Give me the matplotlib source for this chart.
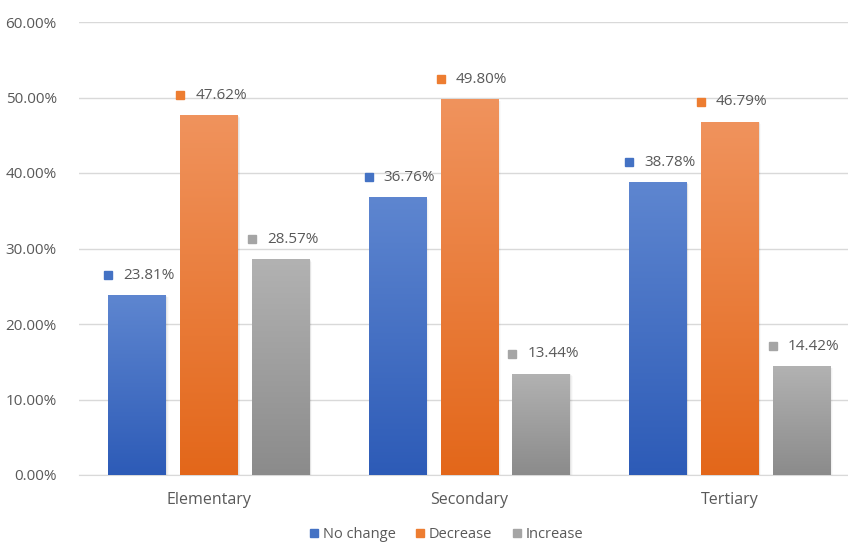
import numpy as np
import matplotlib.pyplot as plt
import matplotlib.transforms as mtransforms
from matplotlib.colors import LinearSegmentedColormap
from matplotlib.patches import Rectangle

plt.rcParams['font.family'] = ['Open Sans', 'DejaVu Sans']

levels = ['Elementary', 'Secondary', 'Tertiary']
series = ['No change', 'Decrease', 'Increase']
no_change = [23.81, 36.76, 38.78]
decrease = [47.62, 49.80, 46.79]
increase = [28.57, 13.44, 14.42]
values = [no_change, decrease, increase]

base_colors = ['#4472c4', '#ed7d31', '#a5a5a5']
grad_top = ['#5e86d0', '#f0935d', '#b2b2b2']
grad_bottom = ['#2d5bb7', '#e3671a', '#8b8b8b']
text_grey = '#595959'
grid_grey = '#d9d9d9'

fig = plt.figure(figsize=(8.48, 5.44), dpi=100)
ax = fig.add_axes([79 / 848, 69 / 544, 781 / 848, 453 / 544])

x = np.arange(len(levels))
width = 0.222
step = 0.276

for i, (name, vals) in enumerate(zip(series, values)):
    pos = x + (i - 1) * step
    bars = ax.bar(pos, vals, width, color='none', edgecolor='none', zorder=3)
    cmap = LinearSegmentedColormap.from_list(name, [grad_bottom[i], grad_top[i]])
    for b, v in zip(bars, vals):
        x0 = b.get_x()
        # faint shadow on the right side of each bar
        for k, a in enumerate([0.05, 0.035, 0.02]):
            sh = Rectangle((x0, 0), width + 0.003 * (k + 1), v - 0.1 * (k + 1),
                           facecolor='black', alpha=a, edgecolor='none', zorder=2)
            ax.add_patch(sh)
        grad = np.linspace(0, 1, 256).reshape(-1, 1)
        im = ax.imshow(grad, cmap=cmap, origin='lower', aspect='auto',
                       extent=[x0, x0 + width, 0, v], zorder=3)
        im.set_clip_path(b)
        # value label: colored square followed by the percentage
        sq = mtransforms.offset_copy(ax.transData, fig=fig, x=-29, y=20, units='dots')
        ax.plot(b.get_x() + width / 2, v, marker='s', markersize=6, color=base_colors[i],
                linestyle='none', transform=sq, zorder=4, clip_on=False)
        ax.annotate(f'{v:.2f}%', (b.get_x() + width / 2, v), xytext=(-14, 20),
                    textcoords='offset pixels', ha='left', va='center',
                    fontsize=11, color=text_grey, zorder=4, annotation_clip=False)
    ax.plot([], [], marker='s', markersize=6, color=base_colors[i], linestyle='none', label=name)

ax.set_xlim(-0.5, 2.5)
ax.set_ylim(0, 60)
ax.set_yticks(np.arange(0, 61, 10))
ax.set_yticklabels([f'{t:.2f}%' for t in np.arange(0, 61, 10)])
ax.set_xticks(x)
ax.set_xticklabels(levels)
ax.tick_params(length=0, labelsize=11.5, colors=text_grey)
ax.tick_params(axis='y', labelsize=11, pad=16)
ax.tick_params(axis='x', pad=12)
ax.grid(axis='y', color=grid_grey, linewidth=1, zorder=0)
ax.set_axisbelow(True)
for s in ['top', 'right', 'left']:
    ax.spines[s].set_visible(False)
ax.spines['bottom'].set_color(grid_grey)

fig.legend(loc='center', bbox_to_anchor=(445 / 848, 9 / 544), ncol=3, frameon=False,
           fontsize=10.5, labelcolor=text_grey, handletextpad=0.1, columnspacing=1.2,
           handlelength=1.0, borderpad=0.2)

fig.savefig('out.png', dpi=100)
